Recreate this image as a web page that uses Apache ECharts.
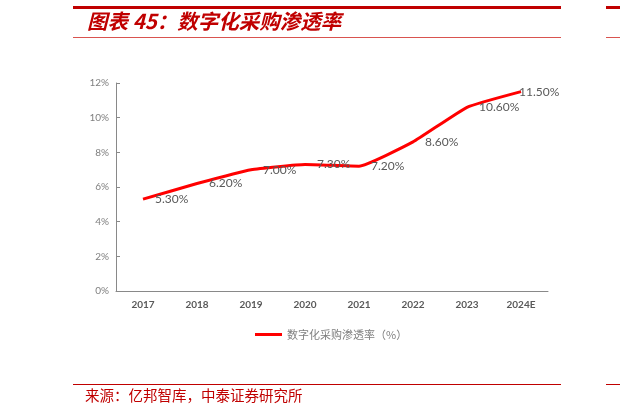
<!DOCTYPE html>
<html><head><meta charset="utf-8">
<script src="https://cdn.jsdelivr.net/npm/echarts@6/dist/echarts.min.js"></script>
<style>html,body{margin:0;padding:0;background:#fff}#c{width:620px;height:413px}</style>
</head><body><div id="c"></div>
<script>
const categories = ['2017','2018','2019','2020','2021','2022','2023','2024E'];
const penetration = [5.3, 6.2, 7.0, 7.3, 7.2, 8.6, 10.6, 11.5];
const yTicks = [0, 2, 4, 6, 8, 10, 12];
const seriesName = '数字化采购渗透率（%）';
const titleText = '图表 45：数字化采购渗透率';
const sourceText = '来源：亿邦智库，中泰证券研究所';

const red = '#c00000';
const chart = echarts.init(document.getElementById('c'));
chart.setOption({
  animation: false,
  backgroundColor: '#fff',
  grid: { left: 116, right: 72, top: 83, bottom: 122 },
  xAxis: {
    type: 'category', data: categories, boundaryGap: true,
    axisLine: { lineStyle: { color: '#898989', width: 1 } },
    axisTick: { inside: true, length: 4, lineStyle: { color: '#898989' } },
    axisLabel: { color: '#595959', fontSize: 10, margin: 9, fontFamily: 'Lato', fontWeight: 'bold' }
  },
  yAxis: {
    type: 'value', min: yTicks[0], max: yTicks[yTicks.length-1], interval: 2,
    splitLine: { show: false },
    axisLine: { show: true, lineStyle: { color: '#898989', width: 1 } },
    axisTick: { show: true, inside: true, length: 4, lineStyle: { color: '#898989' } },
    axisLabel: { color: '#7f7f7f', fontSize: 10, margin: 7, fontFamily: 'Lato', formatter: '{value}%' }
  },
  legend: {
    left: 250, top: 324, icon: 'rect', itemWidth: 27, itemHeight: 3, itemGap: 5,
    textStyle: { color: '#7f7f7f', fontSize: 11, fontFamily: 'Noto Sans CJK SC' },
    data: [seriesName]
  },
  series: [{
    name: seriesName, type: 'line', smooth: 0.12,
    symbol: 'circle', symbolSize: 0, showSymbol: true,
    lineStyle: { color: '#ff0000', width: 3 },
    itemStyle: { color: '#ff0000' },
    data: penetration.map((v, i) => i === penetration.length - 1
      ? { value: v, label: { distance: -2 } } : v),
    label: {
      show: true, position: 'right', distance: 12,
      color: '#595959', fontSize: 12, fontFamily: 'Lato',
      formatter: p => Number(p.value).toFixed(2) + '%'
    }
  }],
  graphic: [
    { type: 'rect', shape: { x: 73, y: 6, width: 488, height: 3 }, style: { fill: red } },
    { type: 'rect', shape: { x: 606, y: 6, width: 14, height: 3 }, style: { fill: red } },
    { type: 'text', left: 87, top: 11, style: { text: titleText, fill: red, font: 'italic bold 20.5px "Noto Sans CJK SC"' } },
    { type: 'rect', shape: { x: 73, y: 37, width: 488, height: 1 }, style: { fill: '#d9534f' } },
    { type: 'rect', shape: { x: 606, y: 37, width: 14, height: 1 }, style: { fill: '#d9534f' } },
    { type: 'rect', shape: { x: 73, y: 384, width: 488, height: 1 }, style: { fill: red } },
    { type: 'rect', shape: { x: 606, y: 384, width: 14, height: 1 }, style: { fill: red } },
    { type: 'text', left: 85, top: 388, style: { text: sourceText, fill: red, font: '14.5px "Noto Sans CJK SC"' } }
  ]
});
</script></body></html>
